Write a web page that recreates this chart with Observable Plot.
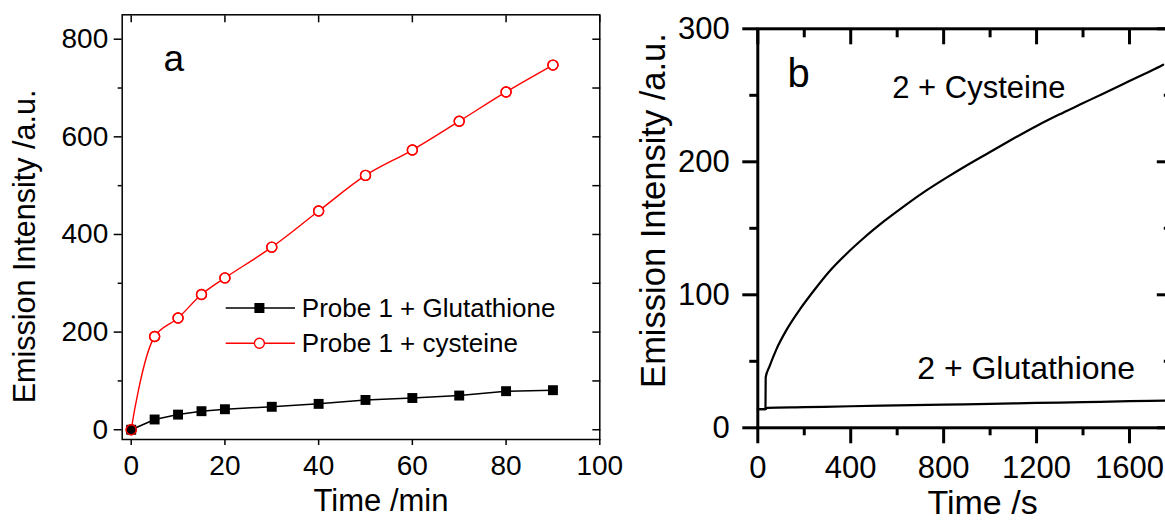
<!DOCTYPE html>
<html>
<head>
<meta charset="utf-8">
<script src="https://cdn.jsdelivr.net/npm/d3@7"></script>
<script src="https://cdn.jsdelivr.net/npm/@observablehq/plot@0.6"></script>
<style>
  html, body { margin: 0; padding: 0; background: #fff; }
  #wrap { position: relative; width: 1165px; height: 520px; overflow: hidden; background: #fff;
          font-family: "Liberation Sans", Arial, sans-serif; }
  #panelA { position: absolute; left: 0; top: 0; width: 620px; height: 520px; }
  #panelB { position: absolute; left: 620px; top: 0; width: 600px; height: 520px; }
  #legendA { position: absolute; left: 220px; top: 290px; }
  #wrap svg { max-width: none !important; }
</style>
</head>
<body>
<div id="wrap">
  <div id="panelA"></div>
  <div id="panelB"></div>
  <div id="legendA"></div>
</div>
<script>
// ---------- Panel a data ----------
const timeA = [0, 5, 10, 15, 20, 30, 40, 50, 60, 70, 80, 90];
const cysteineA = [0, 191, 229, 277, 311, 374, 448, 521, 573, 632, 692, 747];
const glutathioneA = [0, 21, 31, 38, 42, 47, 53, 61, 65, 70, 79, 81];
const seriesNamesA = ["Probe 1 + Glutathione", "Probe 1 + cysteine"];
const xTicksA = [0, 20, 40, 60, 80, 100];
const yTicksA = [0, 200, 400, 600, 800];
const yMinorA = [100, 300, 500, 700];
const xTitleA = "Time /min";
const yTitleA = "Emission Intensity /a.u.";
const panelLabelA = "a";

// ---------- Panel b data ----------
const timeCysB = [0, 33, 34, 50, 80, 125, 185, 245, 305, 380, 455, 545, 636, 726, 816, 906, 996, 1086, 1206, 1297, 1387, 1477, 1567, 1657, 1700, 1745];
const cysteineB = [14, 14, 38, 46, 59, 74, 90, 104, 117, 130.5, 142.5, 155.5, 167.5, 178.5, 188.5, 198, 207, 216, 227.5, 235.5, 243, 250.5, 258, 265.5, 269, 273];
const timeGluB = [0, 33, 40, 200, 400, 600, 800, 1000, 1200, 1400, 1600, 1760];
const glutathioneB = [14, 14, 15, 15.5, 16.2, 16.8, 17.4, 18, 18.7, 19.3, 20, 20.5];
const xTicksB = [0, 400, 800, 1200, 1600];
const xMinorB = [200, 600, 1000, 1400];
const yTicksB = [0, 100, 200, 300];
const yMinorB = [50, 150, 250];
const xTitleB = "Time /s";
const yTitleB = "Emission Intensity /a.u.";
const panelLabelB = "b";
const curveLabelsB = ["2 + Cysteine", "2 + Glutathione"];

const RED = "#ff0000";
const BLACK = "#000000";
const FONT = "Liberation Sans, Arial, sans-serif";

const cysA = timeA.map((t, i) => ({t, v: cysteineA[i]}));
const gluA = timeA.map((t, i) => ({t, v: glutathioneA[i]}));
const cysB = timeCysB.map((t, i) => ({t, v: cysteineB[i]}));
const gluB = timeGluB.map((t, i) => ({t, v: glutathioneB[i]}));

// tick-only helpers (axis marks without text)
const tickX = (opts) => Plot.axisX({fill: "none", label: null, ...opts});
const tickY = (opts) => Plot.axisY({fill: "none", label: null, ...opts});

// ---------- Panel a ----------
const plotA = Plot.plot({
  width: 620, height: 520,
  marginLeft: 121.7, marginRight: 20.7, marginTop: 14.3, marginBottom: 81,
  x: {domain: [-1.92, 100]},
  y: {domain: [-20, 850]},
  style: {fontFamily: FONT, fontSize: "28px", color: BLACK, background: "transparent", overflow: "visible", maxWidth: "none"},
  marks: [
    Plot.frame({stroke: BLACK, strokeWidth: 1.5}),
    Plot.axisX({ticks: xTicksA, tickSize: 6, tickPadding: 10, fontSize: 28, label: null, strokeWidth: 1.5, tickFormat: d => String(d)}),
    tickX({anchor: "top", ticks: xTicksA, tickSize: 7, dy: 7, strokeWidth: 1.5}),
    Plot.axisY({ticks: yTicksA, tickSize: 8, tickPadding: 6, fontSize: 28, label: null, strokeWidth: 1.5, tickFormat: d => String(d)}),
    tickY({ticks: yMinorA, tickSize: 4, strokeWidth: 1.5}),
    tickY({anchor: "right", ticks: yTicksA.concat(yMinorA), tickSize: 8, dx: -8, strokeWidth: 1.5}),
    Plot.line(cysA, {x: "t", y: "v", stroke: RED, strokeWidth: 1.4, curve: "catmull-rom"}),
    Plot.dot(cysA, {x: "t", y: "v", r: 5, stroke: RED, fill: "white", strokeWidth: 1.4}),
    Plot.line(gluA, {x: "t", y: "v", stroke: BLACK, strokeWidth: 1.5}),
    Plot.dot(gluA, {x: "t", y: "v", symbol: "square", r: 5.6, fill: BLACK, stroke: "none"}),
    Plot.dot(cysA, {x: "t", y: "v", r: 5, stroke: RED, fill: "none", strokeWidth: 1.4}),
    Plot.text([panelLabelA], {text: d => d, frameAnchor: "top-left", textAnchor: "start", lineAnchor: "bottom", dx: 41.3, dy: 55.7, fontSize: 37, fill: BLACK}),
    Plot.text([yTitleA], {text: d => d, frameAnchor: "left", rotate: -90, textAnchor: "middle", lineAnchor: "middle", dx: -96.7, dy: 19.3, fontSize: 30.5, fill: BLACK}),
    Plot.text([xTitleA], {text: d => d, frameAnchor: "bottom", textAnchor: "middle", lineAnchor: "middle", dx: 20, dy: 62, fontSize: 31, fill: BLACK})
  ]
});
document.getElementById("panelA").appendChild(plotA);

// ---------- Panel a legend ----------
(function () {
  const svg = d3.create("svg").attr("width", 360).attr("height", 70)
    .style("font-family", FONT).style("overflow", "visible");
  const rows = [
    {name: seriesNamesA[0], color: BLACK, shape: "square", cy: 18, base: 26.7},
    {name: seriesNamesA[1], color: RED, shape: "circle", cy: 53.3, base: 62}
  ];
  for (const r of rows) {
    svg.append("line").attr("x1", 5.7).attr("x2", 75).attr("y1", r.cy).attr("y2", r.cy)
      .attr("stroke", r.color).attr("stroke-width", 1.5);
    if (r.shape === "square") {
      svg.append("rect").attr("x", 39.4 - 5).attr("y", r.cy - 5).attr("width", 10).attr("height", 10).attr("fill", BLACK);
    } else {
      svg.append("circle").attr("cx", 39.4).attr("cy", r.cy).attr("r", 5).attr("fill", "white")
        .attr("stroke", RED).attr("stroke-width", 1.4);
    }
    svg.append("text").attr("x", 81.8).attr("y", r.base).attr("font-size", 26).attr("fill", BLACK).text(r.name);
  }
  document.getElementById("legendA").appendChild(svg.node());
})();

// ---------- Panel b ----------
const plotB = Plot.plot({
  width: 600, height: 520,
  marginLeft: 137.3, marginRight: 49.2, marginTop: 28.3, marginBottom: 92.7,
  x: {domain: [0, 1780]},
  y: {domain: [0, 300]},
  style: {fontFamily: FONT, fontSize: "31px", color: BLACK, background: "transparent", overflow: "visible", maxWidth: "none"},
  marks: [
    Plot.frame({stroke: BLACK, strokeWidth: 3}),
    Plot.axisX({ticks: xTicksB, tickSize: 16, tickPadding: 12, fontSize: 31, label: null, strokeWidth: 3, tickFormat: d => String(d)}),
    tickX({ticks: xMinorB, tickSize: 8, strokeWidth: 3}),
    tickX({anchor: "top", ticks: xTicksB, tickSize: 15, dy: 15, strokeWidth: 3}),
    tickX({anchor: "top", ticks: xMinorB, tickSize: 8, dy: 8, strokeWidth: 3}),
    Plot.axisY({ticks: yTicksB, tickSize: 15, tickPadding: 13, fontSize: 31, label: null, strokeWidth: 3, tickFormat: d => String(d)}),
    tickY({ticks: yMinorB, tickSize: 8, strokeWidth: 3}),
    tickY({anchor: "right", ticks: yTicksB, tickSize: 15, dx: -15, strokeWidth: 3}),
    tickY({anchor: "right", ticks: yMinorB, tickSize: 8, dx: -8, strokeWidth: 3}),
    Plot.line(gluB, {x: "t", y: "v", stroke: BLACK, strokeWidth: 2.2, curve: "monotone-x"}),
    Plot.line(cysB, {x: "t", y: "v", stroke: BLACK, strokeWidth: 2.2, curve: "monotone-x"}),
    Plot.text([panelLabelB], {text: d => d, frameAnchor: "top-left", textAnchor: "start", lineAnchor: "bottom", dx: 29.7, dy: 57.7, fontSize: 40, fill: BLACK}),
    Plot.text([curveLabelsB[0]], {text: d => d, frameAnchor: "top-left", textAnchor: "start", lineAnchor: "bottom", dx: 134.4, dy: 68.7, fontSize: 31, fill: BLACK}),
    Plot.text([curveLabelsB[1]], {text: d => d, frameAnchor: "top-left", textAnchor: "start", lineAnchor: "bottom", dx: 159.4, dy: 349.7, fontSize: 32, fill: BLACK}),
    Plot.text([yTitleB], {text: d => d, frameAnchor: "left", rotate: -90, textAnchor: "middle", lineAnchor: "middle", dx: -104.3, dy: -17.8, fontSize: 34.5, fill: BLACK}),
    Plot.text([xTitleB], {text: d => d, frameAnchor: "bottom", textAnchor: "middle", lineAnchor: "middle", dx: 18, dy: 75.5, fontSize: 34, fill: BLACK})
  ]
});
document.getElementById("panelB").appendChild(plotB);
</script>
</body>
</html>
